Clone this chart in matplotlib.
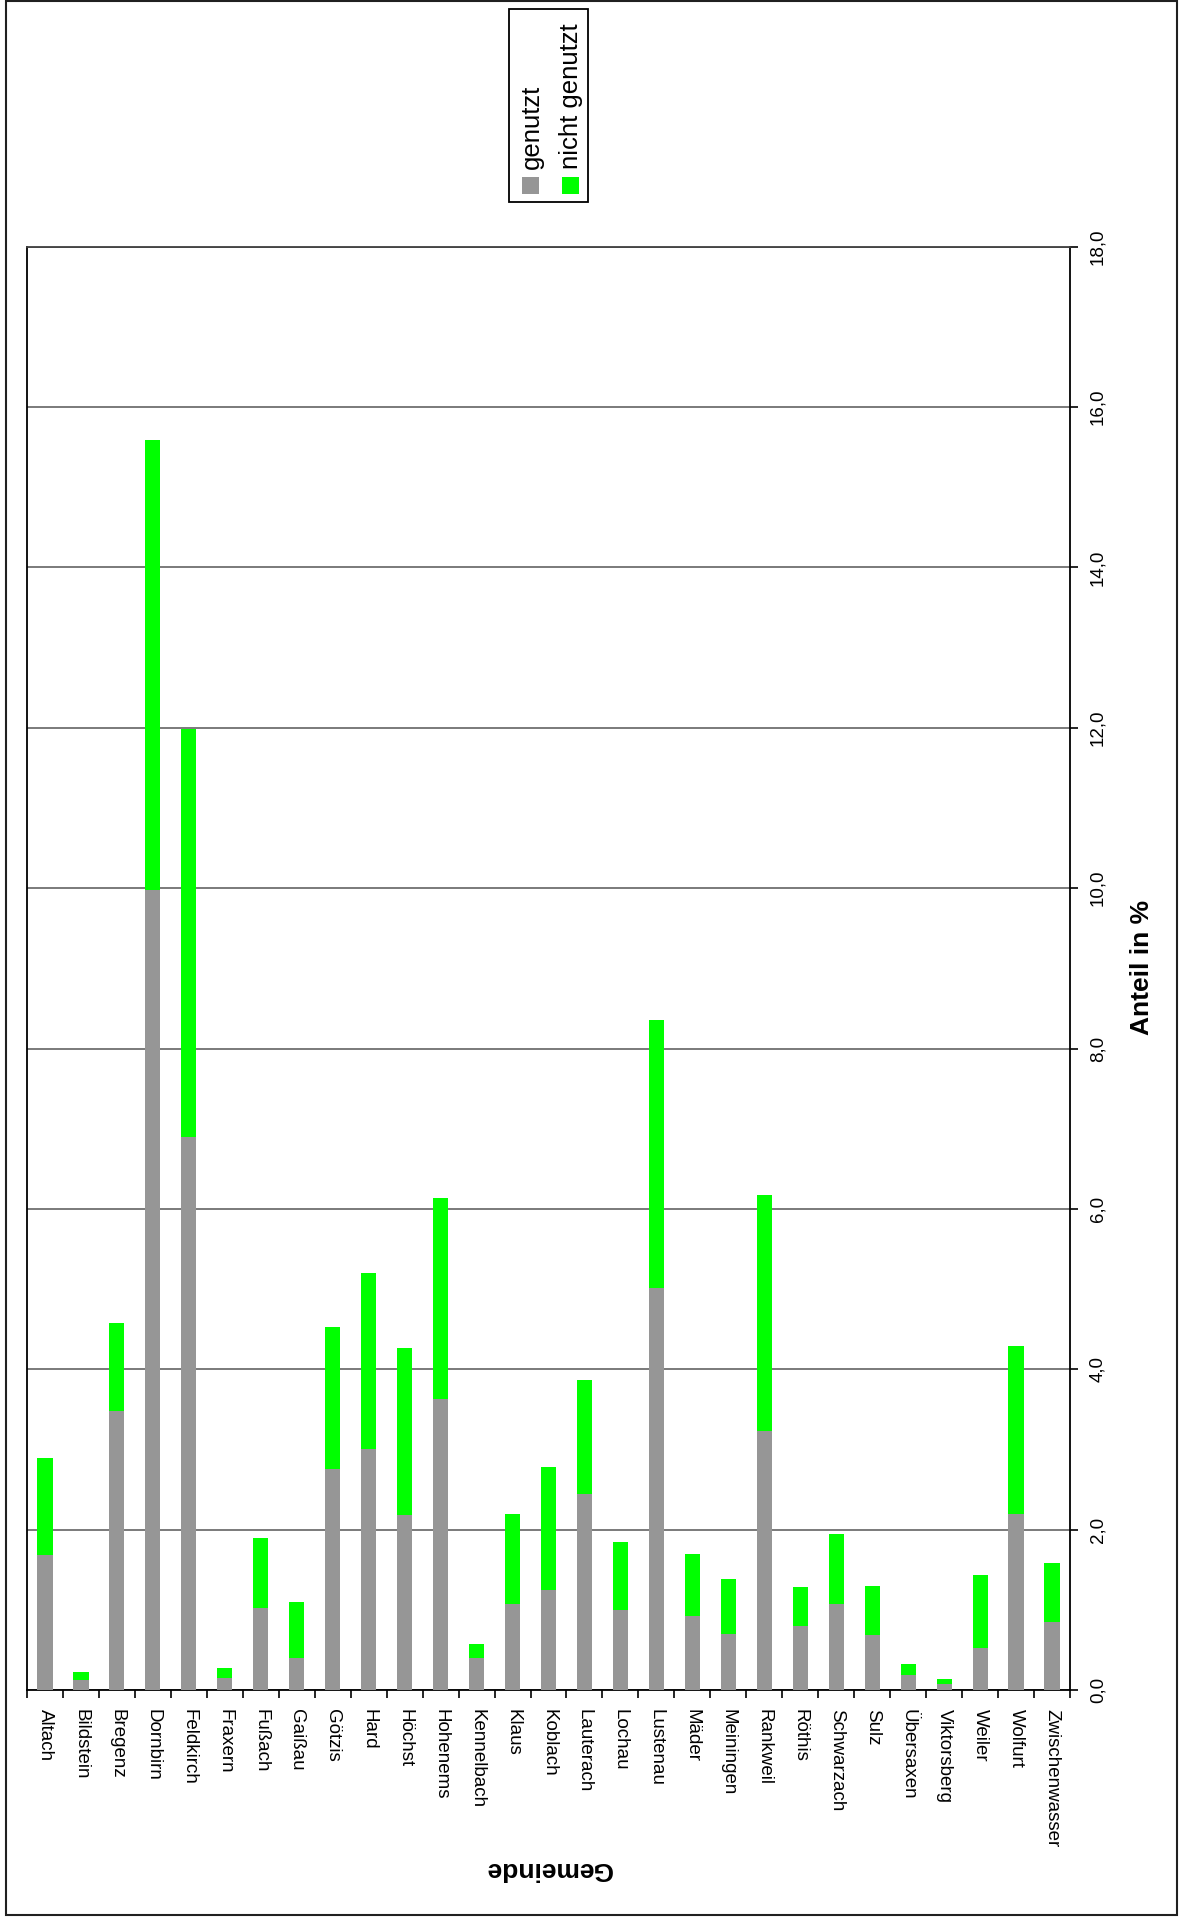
import matplotlib
matplotlib.use("Agg")
import matplotlib.pyplot as plt
import numpy as np
from matplotlib.patches import Rectangle
from matplotlib.ticker import FuncFormatter, MultipleLocator

plt.rcParams['font.family'] = ['Liberation Sans', 'DejaVu Sans']

gemeinden = ["Altach", "Bildstein", "Bregenz", "Dornbirn", "Feldkirch", "Fraxern",
             "Fußach", "Gaißau", "Götzis", "Hard", "Höchst", "Hohenems", "Kennelbach",
             "Klaus", "Koblach", "Lauterach", "Lochau", "Lustenau", "Mäder", "Meiningen",
             "Rankweil", "Röthis", "Schwarzach", "Sulz", "Übersaxen", "Viktorsberg",
             "Weiler", "Wolfurt", "Zwischenwasser"]
genutzt = [1.68, 0.13, 3.48, 9.98, 6.90, 0.15, 1.02, 0.40, 2.75, 3.00, 2.18, 3.63, 0.40,
           1.07, 1.25, 2.45, 1.00, 5.01, 0.92, 0.70, 3.23, 0.80, 1.07, 0.68, 0.19, 0.075,
           0.53, 2.20, 0.85]
gesamt = [2.89, 0.22, 4.58, 15.59, 11.99, 0.28, 1.90, 1.10, 4.53, 5.20, 4.26, 6.14, 0.57,
          2.19, 2.78, 3.86, 1.84, 8.36, 1.70, 1.39, 6.17, 1.29, 1.94, 1.30, 0.33, 0.14,
          1.44, 4.29, 1.58]
nicht_genutzt = [round(t - g, 3) for t, g in zip(gesamt, genutzt)]

W, H = 1182, 1922
fig = plt.figure(figsize=(W / 100, H / 100), dpi=100)

def fx(px):
    return px / W

def fy(py):
    return 1 - py / H

left, right, top, bottom = 27, 1070, 246.7, 1690
ax = fig.add_axes([fx(left), fy(bottom), fx(right - left), (bottom - top) / H])

x = np.arange(len(gemeinden))
ax.bar(x, genutzt, width=0.42, color="#969696", zorder=3)
ax.bar(x, nicht_genutzt, bottom=genutzt, width=0.42, color="#00ff00", zorder=3)

ax.set_xlim(-0.5, len(gemeinden) - 0.5)
ax.set_ylim(0, 18)
ax.yaxis.set_major_locator(MultipleLocator(2))
ax.yaxis.set_major_formatter(FuncFormatter(lambda v, p: f"{v:.1f}".replace(".", ",")))
ax.yaxis.tick_right()
ax.grid(axis="y", color="#707070", linewidth=1.3, zorder=1)

ax.set_xticks(x)
ax.set_xticklabels(gemeinden, rotation=-90, ha="center", va="top", fontsize=13.5)
ax.tick_params(axis="x", length=0, pad=14)
ax.set_xticks(np.arange(-0.5, len(gemeinden) + 0.5, 1), minor=True)
ax.tick_params(axis="x", which="minor", length=6, width=1.2, direction="out")
ax.tick_params(axis="y", length=6, width=1.2, direction="out", pad=8, labelsize=13.5)
for lab in ax.get_yticklabels():
    lab.set_rotation(90)
    lab.set_va("center")

for s in ["left", "bottom", "right"]:
    ax.spines[s].set_color("black")
    ax.spines[s].set_linewidth(1.3)
ax.spines["top"].set_color("#404040")
ax.spines["top"].set_linewidth(1.3)

fig.text(fx(1142), fy(967), "Anteil in %", rotation=90, ha="center", va="center",
         fontsize=19, fontweight="bold")
fig.text(fx(548.5), fy(1869), "Gemeinde", rotation=180, ha="center", va="center",
         fontsize=19, fontweight="bold")

# outer frame
fig.patches.append(Rectangle((fx(6), fy(1915)), fx(1171), (1915 - 1) / H, transform=fig.transFigure,
                             fill=False, edgecolor="#202020", linewidth=1.5))

# legend
fig.patches.append(Rectangle((fx(509), fy(202)), fx(79), (202 - 9) / H, transform=fig.transFigure,
                             fill=True, facecolor="white", edgecolor="black", linewidth=1.3))
fig.patches.append(Rectangle((fx(522), fy(194)), fx(17), 17 / H, transform=fig.transFigure,
                             facecolor="#969696", edgecolor="none"))
fig.patches.append(Rectangle((fx(562), fy(194)), fx(17), 17 / H, transform=fig.transFigure,
                             facecolor="#00ff00", edgecolor="none"))
fig.text(fx(532), fy(169), "genutzt", rotation=90, ha="center", va="bottom", fontsize=18.5)
fig.text(fx(571), fy(169), "nicht genutzt", rotation=90, ha="center", va="bottom", fontsize=18.5)

fig.savefig("out.png", dpi=100, facecolor="white")
